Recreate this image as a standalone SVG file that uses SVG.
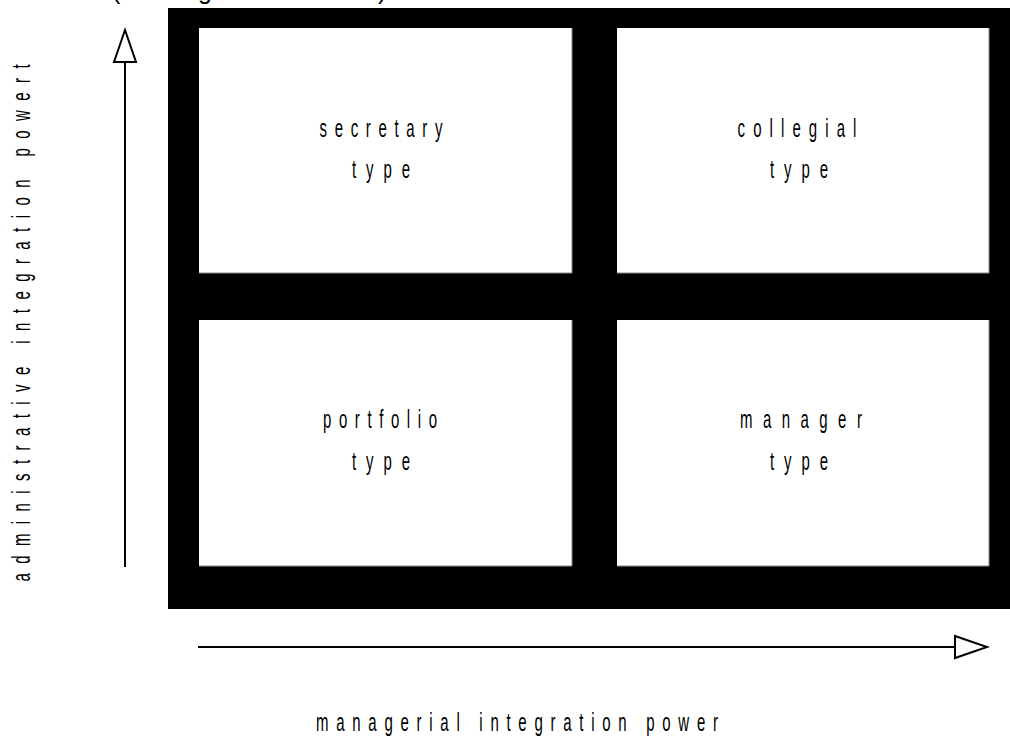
<svg xmlns="http://www.w3.org/2000/svg" width="1010" height="740" viewBox="0 0 1010 740">
  <style>
    .lbl { font-family: "Liberation Sans", Arial, sans-serif; font-size: 25px; fill: #000; text-anchor: middle; }
    .top { font-family: "Liberation Sans", Arial, sans-serif; font-size: 25px; fill: #000; }
    .cell { fill: #fff; }
    .edge { fill: none; stroke: #8a8a8a; stroke-width: 1; }
    .axis { fill: none; stroke: #000; stroke-width: 2; }
  </style>
  <defs>
    <marker id="open" viewBox="0 0 32 22" refX="0" refY="11" markerWidth="32" markerHeight="22" markerUnits="userSpaceOnUse" orient="auto" overflow="visible">
      <path d="M0,0 L32,11 L0,22 Z" fill="#fff" stroke="#000" stroke-width="2" stroke-linejoin="miter"/>
    </marker>
  </defs>
  <rect width="1010" height="740" fill="#fff"/>

  <text class="top" y="-1"><tspan x="112">(</tspan><tspan x="198">g</tspan><tspan x="378">)</tspan></text>

  <g id="frame">
    <rect x="168" y="8" width="842" height="601" fill="#000"/>
  </g>

  <g id="secretary">
    <rect class="cell" x="199" y="28" width="373" height="245"/>
    <path class="edge" d="M572,28 V273 H199"/>
    <text class="lbl" transform="translate(381,137) scale(0.6,1)" textLength="205" lengthAdjust="spacing">secretary</text>
    <text class="lbl" transform="translate(381,178) scale(0.6,1)" textLength="97" lengthAdjust="spacing">type</text>
  </g>

  <g id="collegial">
    <rect class="cell" x="617" y="28" width="372" height="245"/>
    <path class="edge" d="M989,28 V273 H617"/>
    <text class="lbl" transform="translate(797,137) scale(0.6,1)" textLength="198" lengthAdjust="spacing">collegial</text>
    <text class="lbl" transform="translate(799,178) scale(0.6,1)" textLength="97" lengthAdjust="spacing">type</text>
  </g>

  <g id="portfolio">
    <rect class="cell" x="199" y="320" width="373" height="246"/>
    <path class="edge" d="M572,320 V566 H199"/>
    <text class="lbl" transform="translate(380,428) scale(0.6,1)" textLength="190" lengthAdjust="spacing">portfolio</text>
    <text class="lbl" transform="translate(381,470) scale(0.6,1)" textLength="97" lengthAdjust="spacing">type</text>
  </g>

  <g id="manager">
    <rect class="cell" x="617" y="320" width="372" height="246"/>
    <path class="edge" d="M989,320 V566 H617"/>
    <text class="lbl" transform="translate(801,428) scale(0.6,1)" textLength="203" lengthAdjust="spacing">manager</text>
    <text class="lbl" transform="translate(799,470) scale(0.6,1)" textLength="97" lengthAdjust="spacing">type</text>
  </g>

  <g id="connectors">
    <path class="axis" d="M125,567 V62" marker-end="url(#open)"/>
    <path class="axis" d="M198,647 H955" marker-end="url(#open)"/>
  </g>

  <g id="axis-labels">
    <text class="lbl" transform="translate(517,731) scale(0.6,1)" textLength="670" lengthAdjust="spacing">managerial integration power</text>
    <text class="lbl" transform="translate(30,323) rotate(-90) scale(0.6,1)" textLength="862" lengthAdjust="spacing">administrative integration powert</text>
  </g>
</svg>
